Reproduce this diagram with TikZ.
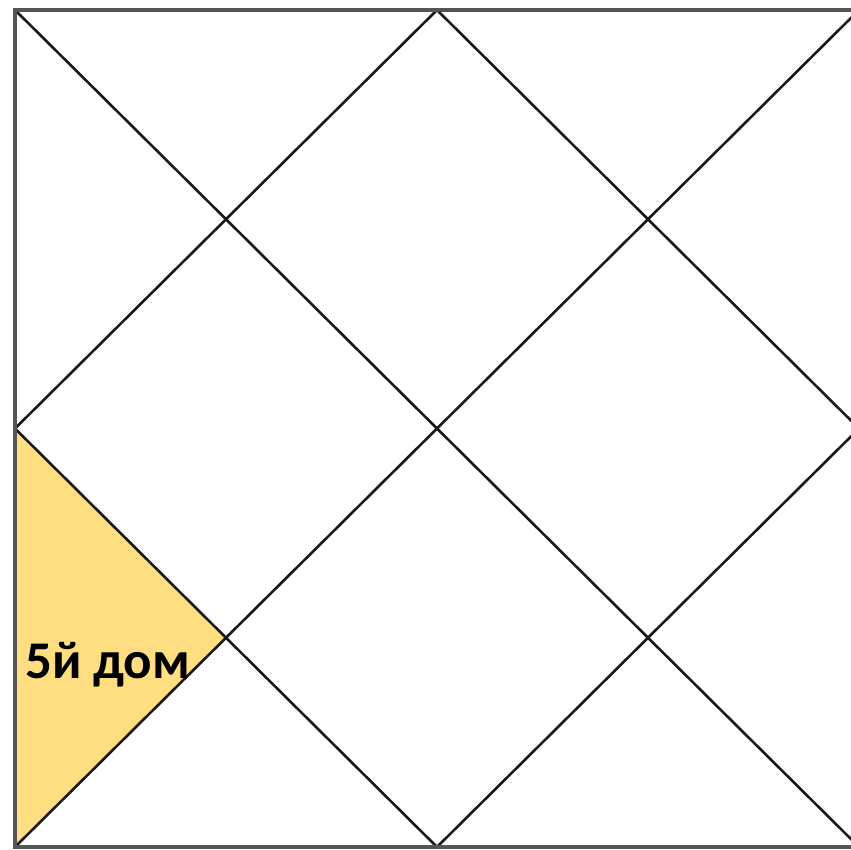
\documentclass[tikz,border=0pt]{standalone}
\usepackage{fontspec}
\setmainfont{Carlito}
\definecolor{housefill}{RGB}{255,222,130}
\definecolor{framegray}{RGB}{85,85,85}
\definecolor{linedark}{RGB}{25,25,25}
\begin{document}
\begin{tikzpicture}[x=1pt,y=-1pt,
  frame/.style={draw=framegray,line width=3.4pt},
  chartline/.style={draw=linedark,line width=2.6pt},
  label/.style={font=\bfseries\fontsize{53}{53}\selectfont,text=black,inner sep=0pt,anchor=base west}]
\useasboundingbox (0,0) rectangle (851,850);
\clip (0,0) rectangle (851,850);
\fill[white] (0,0) rectangle (851,850);
\coordinate (TL) at (15,10);
\coordinate (TR) at (859,10);
\coordinate (BL) at (15,847);
\coordinate (BR) at (859,847);
\coordinate (T) at (437,10);
\coordinate (B) at (437,847);
\coordinate (L) at (15,428.5);
\coordinate (R) at (859,428.5);
\coordinate (X) at (226,637.75);
\fill[housefill] (L) -- (X) -- (BL) -- cycle;
\draw[chartline] (TL) -- (BR);
\draw[chartline] (BL) -- (TR);
\draw[chartline] (T) -- (R) -- (B) -- (L) -- cycle;
\draw[frame] (TL) -- (TR) -- (BR) -- (BL) -- cycle;
\node[label] (h5) at (25,678) {5й дом};
\end{tikzpicture}
\end{document}
